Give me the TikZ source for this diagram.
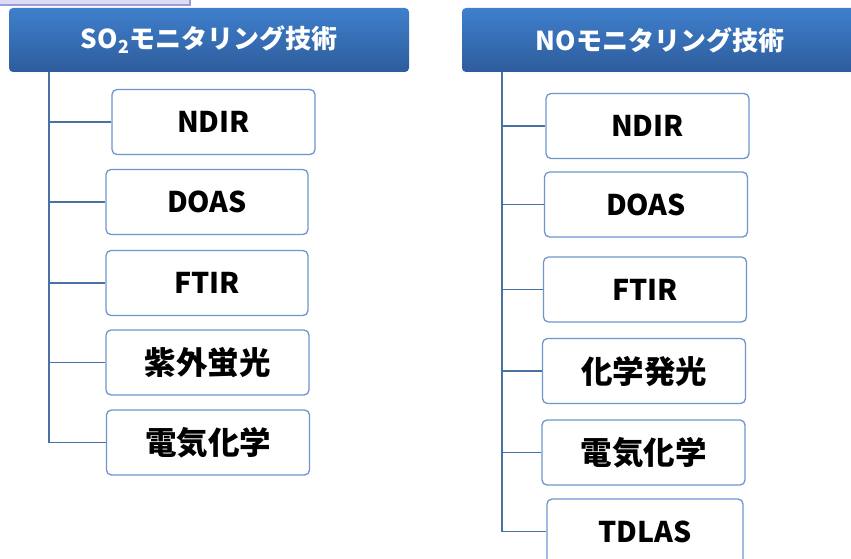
\documentclass[tikz,border=0pt]{standalone}
\usepackage{fontspec}
\newfontfamily\jp{Noto Sans CJK JP}
\definecolor{hdrtop}{HTML}{3F7FCC}
\definecolor{hdrbot}{HTML}{2E5C9C}
\definecolor{boxline}{HTML}{6E96CC}
\definecolor{connline}{HTML}{4A70A8}
\definecolor{lavfill}{HTML}{DCDCF6}
\definecolor{lavline}{HTML}{9C9CD8}
\tikzset{
  hdr/.style={rectangle, rounded corners=4pt, top color=hdrtop, bottom color=hdrbot,
    draw=none, minimum height=64pt, inner sep=0pt, text=white,
    font=\jp\bfseries\fontsize{26}{26}\selectfont},
  techbox/.style={rectangle, rounded corners=5pt, draw=boxline, line width=1.3pt,
    fill=white, minimum height=65pt, inner sep=0pt, text=black,
    font=\jp\bfseries\fontsize{28.5}{28.5}\selectfont},
  cjkbox/.style={techbox, font=\jp\bfseries\fontsize{31.5}{31.5}\selectfont},
  conn/.style={draw=connline, line width=1.3pt}
}
\begin{document}
\begin{tikzpicture}[x=1pt,y=-1pt]
\useasboundingbox (0,0) rectangle (851,559);
\clip (0,0) rectangle (851,559);
% fragment at top left
\fill[lavfill] (-5,-5) rectangle (190,5);
\draw[lavline, line width=1.2pt] (-5,5) -- (190,5) -- (190,-5);
% headers
\node[hdr, minimum width=400pt] (hL) at (209,40) {SO\raisebox{-0.35ex}{\fontsize{18}{18}\selectfont 2}モニタリング技術};
\node[hdr, minimum width=396pt] (hR) at (660,40) {NOモニタリング技術};
% left boxes
\node[techbox, minimum width=203pt] (bL1) at (213.5,122) {NDIR};
\node[techbox, minimum width=202pt] (bL2) at (207,202) {DOAS};
\node[techbox, minimum width=202pt] (bL3) at (207,283) {FTIR};
\node[cjkbox, minimum width=203pt] (bL4) at (207.5,362.5) {紫外蛍光};
\node[cjkbox, minimum width=203pt] (bL5) at (208,442.5) {電気化学};
% right boxes
\node[techbox, minimum width=203pt] (bR1) at (647.5,126) {NDIR};
\node[techbox, minimum width=203pt] (bR2) at (646,204.5) {DOAS};
\node[techbox, minimum width=203pt] (bR3) at (645,289.5) {FTIR};
\node[cjkbox, minimum width=203pt] (bR4) at (644,371) {化学発光};
\node[cjkbox, minimum width=203pt] (bR5) at (643.5,452.5) {電気化学};
\node[techbox, minimum width=196pt] (bR6) at (645,531.5) {TDLAS};
% trunks
\coordinate (tL) at (49,72);
\coordinate (tR) at (502,72);
\draw[conn] (tL) |- (bL5.west);
\foreach \i in {1,2,3,4} {\draw[conn] (tL |- bL\i.west) -- (bL\i.west);}
\draw[conn] (tR) |- (bR6.west);
\foreach \i in {1,2,3,4,5} {\draw[conn] (tR |- bR\i.west) -- (bR\i.west);}
\end{tikzpicture}
\end{document}
